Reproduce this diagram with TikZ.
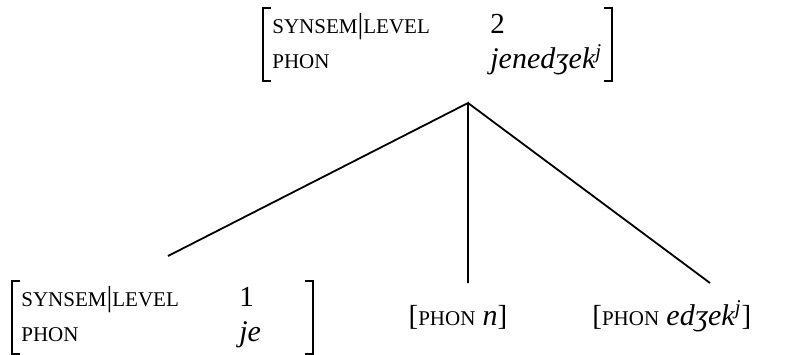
\documentclass[tikz,border=0pt]{standalone}
\usepackage{fontspec}
\setmainfont{Liberation Serif}

\newcommand\ftr[1]{{\fontsize{10.5}{12}\selectfont #1}}
\newcommand\phon[1]{{\fontsize{15}{17.5}\selectfont\itshape #1}}
\newcommand\sspath{\ftr{SYNSEM}|\ftr{LEVEL}}

\begin{document}
\begin{tikzpicture}[x=0.5pt,y=-0.5pt,
  txt/.style={inner sep=0pt,font=\fontsize{14.5}{17.5}\selectfont},
  avm/.style={txt,anchor=north west,inner xsep=4.5pt,inner ysep=0.5pt},
  bracket/.style={line width=0.7pt},
  branch/.style={line width=0.9pt}]

  \useasboundingbox (0,0) rectangle (791,354);

  \node[avm] (mother) at (263,8) {\begin{tabular}{@{}p{109pt}@{}p{56pt}@{}}
    \sspath & 2\\
    \ftr{PHON} & \phon{jenedʒek\textsuperscript{j}}
  \end{tabular}};
  \draw[bracket] ([xshift=4pt]mother.north west) -| (mother.south west) -- ++(4pt,0);
  \draw[bracket] ([xshift=-4pt]mother.north east) -| (mother.south east) -- ++(-4pt,0);

  \node[avm] (dtrje) at (12,281) {\begin{tabular}{@{}p{109pt}@{}p{32pt}@{}}
    \sspath & 1\\
    \ftr{PHON} & \phon{je}
  \end{tabular}};
  \draw[bracket] ([xshift=4pt]dtrje.north west) -| (dtrje.south west) -- ++(4pt,0);
  \draw[bracket] ([xshift=-4pt]dtrje.north east) -| (dtrje.south east) -- ++(-4pt,0);

  \node[txt,anchor=base] (dtrn) at (458,325) {[\ftr{PHON} \phon{n}]};
  \node[txt,anchor=base west] (dtredz) at (592,325) {[\ftr{PHON} \phon{edʒek\textsuperscript{j}}]};

  % branches
  \coordinate (apex) at (468,103);
  \coordinate (endje) at (168,256);
  \coordinate (endn) at (468,283);
  \coordinate (enddz) at (710,283);
  \draw[branch] (endje) -- (apex) -- (endn);
  \draw[branch] (apex) -- (enddz);

\end{tikzpicture}
\end{document}
